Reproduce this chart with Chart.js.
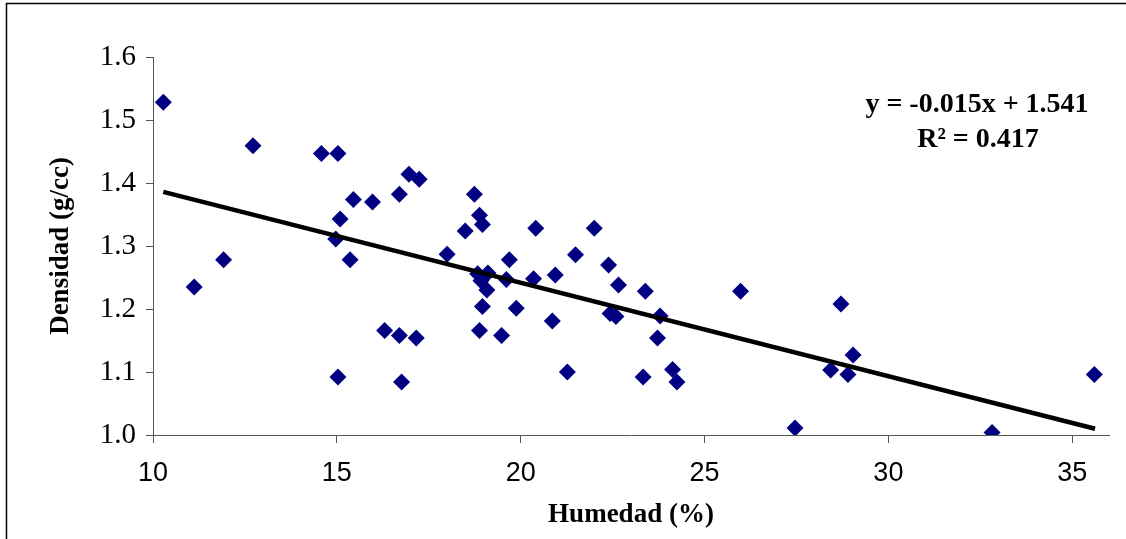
<!DOCTYPE html>
<html>
<head>
<meta charset="utf-8">
<script src="https://cdn.jsdelivr.net/npm/chart.js@4.4.1/dist/chart.umd.min.js"></script>
<style>
  html, body { margin: 0; padding: 0; background: #fff; }
  #wrap { width: 1126px; height: 539px; position: relative; }
</style>
</head>
<body>
<div id="wrap"><canvas id="c"></canvas></div>
<script>
// Humedad (%) y Densidad (g/cc)
const humedad = [
  10.28, 11.12, 11.92, 12.72, 14.58, 15.03, 15.45, 15.97, 15.09, 14.97,
  15.36, 15.03, 16.30, 16.70, 17.16, 16.76, 16.70, 16.96, 17.24, 18.74,
  18.88, 18.96, 18.49, 18.00, 18.83, 19.11, 18.92, 19.08, 18.96, 18.88,
  19.48, 19.88, 19.61, 19.69, 20.35, 20.41, 20.94, 20.86, 21.27, 21.49,
  22.00, 22.39, 22.66, 22.43, 22.59, 23.39, 23.79, 23.72, 23.33, 24.13,
  24.25, 25.98, 27.46, 28.43, 28.71, 28.90, 29.04, 32.82, 35.60
];
const densidad = [
  1.528, 1.235, 1.278, 1.459, 1.447, 1.447, 1.374, 1.370, 1.343, 1.311,
  1.278, 1.092, 1.166, 1.158, 1.154, 1.084, 1.382, 1.414, 1.406, 1.382,
  1.349, 1.334, 1.324, 1.287, 1.256, 1.257, 1.245, 1.230, 1.204, 1.166,
  1.158, 1.201, 1.247, 1.278, 1.248, 1.328, 1.254, 1.181, 1.100, 1.286,
  1.328, 1.270, 1.238, 1.193, 1.188, 1.228, 1.189, 1.154, 1.092, 1.104,
  1.084, 1.228, 1.011, 1.103, 1.208, 1.096, 1.127, 1.004, 1.096
];
// linea de tendencia (extremos)
const trendX = [10.28, 35.62];
const trendY = [1.386, 1.010];
const ecuacion = ['y = -0.015x + 1.541', 'R\u00B2 = 0.417'];
const yTicks = [1.0, 1.1, 1.2, 1.3, 1.4, 1.5, 1.6];
const xTicks = [10, 15, 20, 25, 30, 35];

const puntos = humedad.map((x, i) => ({ x, y: densidad[i] }));
const tendencia = trendX.map((x, i) => ({ x, y: trendY[i] }));

// marco exterior y texto de la ecuacion
const extras = {
  id: 'extras',
  beforeDraw(chart) {
    const ctx = chart.ctx;
    ctx.save();
    ctx.strokeStyle = '#000';
    ctx.lineWidth = 1.5;
    ctx.strokeRect(6.5, 3.5, 1400, 800);
    ctx.restore();
  },
  afterDraw(chart) {
    const ctx = chart.ctx;
    ctx.save();
    ctx.fillStyle = '#000';
    ctx.font = 'bold 28px "Liberation Serif"';
    ctx.textAlign = 'center';
    ctx.textBaseline = 'middle';
    ctx.fillText(ecuacion[0], 977, 105);
    ctx.fillText(ecuacion[1], 978, 140);
    ctx.restore();
  }
};

new Chart(document.getElementById('c'), {
  type: 'scatter',
  data: {
    datasets: [
      {
        type: 'line',
        data: tendencia,
        borderColor: '#000',
        borderWidth: 4.5,
        pointRadius: 0,
        fill: false
      },
      {
        data: puntos,
        pointStyle: 'rectRot',
        pointRadius: 8.5,
        pointBackgroundColor: '#000080',
        pointBorderColor: '#000080',
        pointBorderWidth: 0
      }
    ]
  },
  options: {
    responsive: true,
    maintainAspectRatio: false,
    animation: false,
    layout: { padding: { top: 57, right: 17, left: 0, bottom: 0 } },
    plugins: { legend: { display: false }, tooltip: { enabled: false } },
    scales: {
      x: {
        type: 'linear',
        min: 10, max: 36,
        afterFit: s => { s.height = 104; },
        afterBuildTicks: s => { s.ticks = xTicks.map(v => ({ value: v })); },
        ticks: { color: '#000', padding: 14, font: { family: 'Liberation Sans', size: 27 } },
        grid: { drawOnChartArea: false, drawTicks: true, tickLength: 8, tickColor: '#555' },
        border: { color: '#555', width: 1 },
        title: {
          display: true, text: 'Humedad (%)', color: '#000',
          font: { family: 'Liberation Serif', size: 27, weight: 'bold' },
          padding: { top: 0, bottom: 8 }
        }
      },
      y: {
        min: 1.0, max: 1.6,
        afterFit: s => { s.width = 153; },
        afterBuildTicks: s => { s.ticks = yTicks.map(v => ({ value: v })); },
        ticks: {
          color: '#000', padding: 10,
          font: { family: 'Liberation Serif', size: 29 },
          callback: v => Number(v).toFixed(1)
        },
        grid: { drawOnChartArea: false, drawTicks: true, tickLength: 7, tickColor: '#555' },
        border: { color: '#555', width: 1 },
        title: {
          display: true, text: 'Densidad (g/cc)', color: '#000',
          font: { family: 'Liberation Serif', size: 27, weight: 'bold' },
          padding: { top: 45, bottom: 0 }
        }
      }
    }
  },
  plugins: [extras]
});
</script>
</body>
</html>
